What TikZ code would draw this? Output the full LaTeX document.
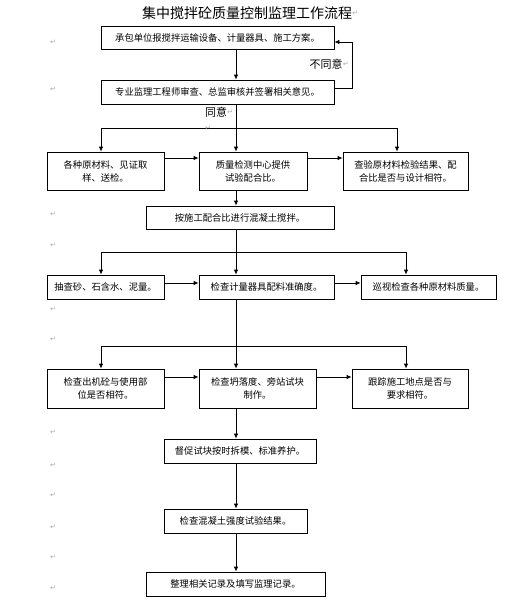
\documentclass[tikz,border=0pt]{standalone}
\usepackage{fontspec}
\newfontfamily\cjk{Noto Sans CJK SC}
\newfontfamily\dv{DejaVu Sans}
\usetikzlibrary{arrows.meta,calc}
\begin{document}
\begin{tikzpicture}[x=1pt,y=-1pt,
  box/.style={draw,line width=0.8pt,inner sep=1pt,align=center,font=\cjk\fontsize{9.3}{13}\selectfont},
  arr/.style={line width=0.8pt,-{Latex[length=5pt,width=4.5pt]}},
  ln/.style={line width=0.8pt},
  pm/.style={text=gray!70,font=\dv\fontsize{7}{7}\selectfont,inner sep=0pt},
  lbl/.style={font=\cjk\fontsize{11}{11}\selectfont,inner sep=0pt}]
\useasboundingbox (0,0) rectangle (525,611);
\node[font=\cjk\fontsize{14}{14}\selectfont,inner sep=0pt] (title) at (247,13) {集中搅拌砼质量控制监理工作流程};
\node[pm,anchor=west] (pt) at (title.east) {↵};
% boxes
\node[box,minimum width=233,minimum height=23] (b1) at (217.5,37.5) {承包单位报搅拌运输设备、计量器具、施工方案。};
\node[box,minimum width=233,minimum height=24] (b2) at (217.5,92) {专业监理工程师审查、总监审核并签署相关意见。};
\node[box,minimum width=117,minimum height=38] (r1l) at (105.5,171) {各种原材料、见证取\\样、送检。};
\node[box,minimum width=108,minimum height=38] (r1m) at (253,171) {质量检测中心提供\\试验配合比。};
\node[box,minimum width=125,minimum height=38] (r1r) at (405.5,171) {查验原材料检验结果、配\\合比是否与设计相符。};
\node[box,minimum width=188,minimum height=23] (mix) at (240,217.5) {按施工配合比进行混凝土搅拌。};
\node[box,minimum width=117,minimum height=24] (r2l) at (105.5,287) {抽查砂、石含水、泥量。};
\node[box,minimum width=135,minimum height=24] (r2m) at (266.5,287) {检查计量器具配料准确度。};
\node[box,minimum width=135,minimum height=24] (r2r) at (428.5,287) {巡视检查各种原材料质量。};
\node[box,minimum width=117,minimum height=39] (r3l) at (105.5,388.5) {检查出机砼与使用部\\位是否相符。};
\node[box,minimum width=117,minimum height=39] (r3m) at (257.5,388.5) {检查坍落度、旁站试块\\制作。};
\node[box,minimum width=116,minimum height=39] (r3r) at (410,388.5) {跟踪施工地点是否与\\要求相符。};
\node[box,minimum width=152,minimum height=24] (b7) at (240,451) {督促试块按时拆模、标准养护。};
\node[box,minimum width=143,minimum height=24] (b8) at (235.5,521) {检查混凝土强度试验结果。};
\node[box,minimum width=179,minimum height=24] (b9) at (235.5,584) {整理相关记录及填写监理记录。};
% axis and junctions
\coordinate (ax) at (236,0);
\coordinate (j1) at (236,128);
\coordinate (j2) at (236,252);
\coordinate (j3) at (236,346);
\draw[arr] (ax |- b1.south) -- (ax |- b2.north);
\draw[arr] ([yshift=4pt]b2.east) -- ++(18,0) |- ([yshift=-4.5pt]b1.east);
\node[lbl] (no) at (326,64) {不同意};
\node[pm,anchor=west] at (no.east) {↵};
\node[lbl] (yes) at (216,112) {同意};
\node[pm,anchor=west] at (yes.east) {↵};
\draw[ln] (ax |- b2.south) -- (j1);
\draw[arr] (j1) -- (ax |- r1m.north);
\draw[arr] (j1) -| ([xshift=-4.5pt]r1l.north);
\draw[arr] (j1) -| ([xshift=-8.5pt]r1r.north);
\draw[arr] ([yshift=13pt]r1l.east) -- ([yshift=13pt]r1m.west);
\draw[arr] ([yshift=13pt]r1m.east) -- ([yshift=13pt]r1r.west);
\draw[arr] (ax |- r1m.south) -- (ax |- mix.north);
\draw[ln] (ax |- mix.south) -- (j2);
\draw[arr] (j2) -- (ax |- r2m.north);
\draw[arr] (j2) -| ([xshift=-4.5pt]r2l.north);
\draw[arr] (j2) -| ([xshift=-22.5pt]r2r.north);
\draw[arr] ([yshift=4pt]r2l.east) -- ([yshift=4pt]r2m.west);
\draw[arr] ([yshift=4pt]r2m.east) -- ([yshift=4pt]r2r.west);
\draw[ln] (ax |- r2m.south) -- (j3);
\draw[arr] (j3) -- (ax |- r3m.north);
\draw[arr] (j3) -| ([xshift=-4.5pt]r3l.north);
\draw[arr] (j3) -| ([xshift=-4pt]r3r.north);
\draw[arr] ([yshift=11.5pt]r3l.east) -- ([yshift=11.5pt]r3m.west);
\draw[arr] ([yshift=11.5pt]r3m.east) -- ([yshift=11.5pt]r3r.west);
\draw[arr] (ax |- r3m.south) -- (ax |- b7.north);
\draw[arr] (ax |- b7.south) -- (ax |- b8.north);
\draw[arr] (ax |- b8.south) -- (ax |- b9.north);
% paragraph marks
\foreach \yy [count=\i] in {42,89,214,245,309,339,432,465,495,527,557,588}
  \node[pm] (p\i) at (53,\yy) {↵};
\node[pm] (pj) at (208,128) {↵};
\end{tikzpicture}
\end{document}
